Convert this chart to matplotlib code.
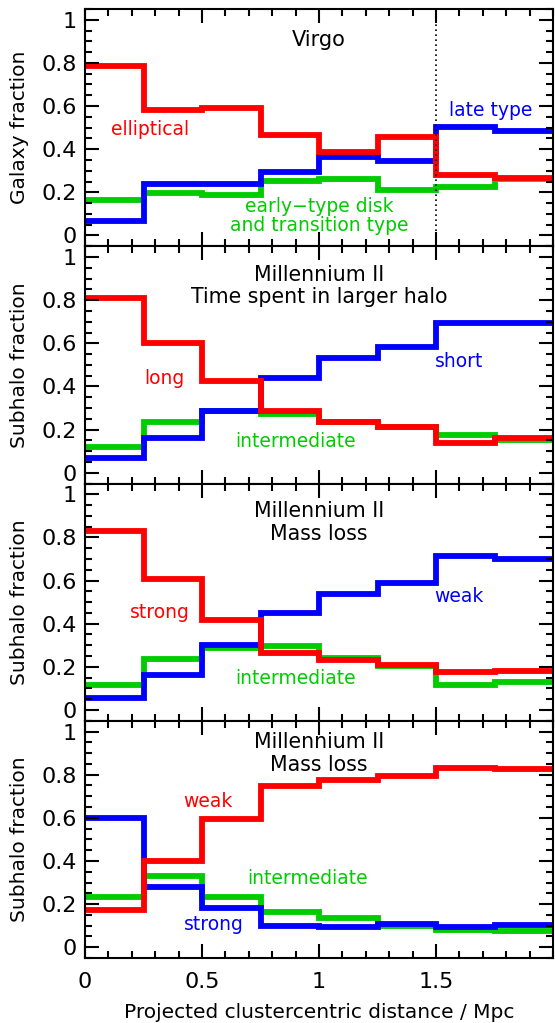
import numpy as np
import matplotlib
matplotlib.use("Agg")
import matplotlib.pyplot as plt
from matplotlib.ticker import MultipleLocator, FixedLocator

# bin edges (Mpc)
edges = [0, 0.25, 0.5, 0.75, 1.0, 1.25, 1.5, 1.75, 2.0]

# panel 1: Virgo
virgo_ell = [0.785, 0.58, 0.59, 0.465, 0.385, 0.455, 0.28, 0.265]
virgo_late = [0.067, 0.24, 0.24, 0.295, 0.363, 0.345, 0.505, 0.485]
virgo_early = [0.165, 0.197, 0.186, 0.251, 0.262, 0.212, 0.225, 0.262]

# panel 2: time spent in larger halo
time_long = [0.81, 0.60, 0.424, 0.285, 0.236, 0.21, 0.136, 0.159]
time_short = [0.066, 0.162, 0.287, 0.437, 0.532, 0.583, 0.694, 0.694]
time_inter = [0.12, 0.235, 0.285, 0.272, 0.234, 0.212, 0.174, 0.151]

# panel 3: mass loss
loss_strong = [0.832, 0.605, 0.415, 0.263, 0.232, 0.209, 0.177, 0.182]
loss_weak = [0.055, 0.163, 0.30, 0.45, 0.538, 0.589, 0.715, 0.70]
loss_inter = [0.118, 0.238, 0.285, 0.297, 0.243, 0.205, 0.115, 0.128]

# panel 4: mass loss
loss4_weak = [0.174, 0.40, 0.593, 0.747, 0.776, 0.796, 0.830, 0.824]
loss4_strong = [0.60, 0.278, 0.184, 0.099, 0.096, 0.108, 0.094, 0.105]
loss4_inter = [0.231, 0.329, 0.231, 0.164, 0.136, 0.10, 0.08, 0.076]

RED = "#ff0000"
BLUE = "#0000ff"
GREEN = "#00cc00"

fig, axes = plt.subplots(4, 1, figsize=(5.55, 10.23), dpi=100, sharex=True)
fig.subplots_adjust(left=85/555, right=553/555, top=1-9/1023, bottom=1-958/1023, hspace=0)


def steps(ax, vals, color):
    ax.stairs(vals, edges, color=color, lw=4.2, baseline=None)


def style(ax, ylabel):
    ax.set_xlim(0, 2)
    ax.set_ylim(-0.05, 1.05)
    ax.xaxis.set_major_locator(FixedLocator([0, 0.5, 1, 1.5]))
    ax.xaxis.set_minor_locator(MultipleLocator(0.1))
    ax.yaxis.set_major_locator(FixedLocator([0, 0.2, 0.4, 0.6, 0.8, 1.0]))
    ax.yaxis.set_minor_locator(MultipleLocator(0.05))
    ax.set_yticklabels(["0", "0.2", "0.4", "0.6", "0.8", "1"])
    ax.tick_params(which="both", direction="in", top=True, right=True, width=1.5,
                   labelsize=16, pad=6)
    ax.tick_params(axis="x", pad=10)
    ax.tick_params(which="major", length=10)
    ax.tick_params(which="minor", length=5)
    for s in ax.spines.values():
        s.set_linewidth(1.5)
    ax.set_ylabel(ylabel, fontsize=14.5, labelpad=9)


tk = dict(ha="center", va="center", fontsize=13.5)

# panel 1
ax = axes[0]
steps(ax, virgo_early, GREEN)
steps(ax, virgo_late, BLUE)
steps(ax, virgo_ell, RED)
ax.axvline(1.5, color="black", lw=1.2, ls=(0, (1, 2)))
ax.text(1.0, 0.905, "Virgo", ha="center", va="center", fontsize=15)
ax.text(0.28, 0.49, "elliptical", color=RED, **tk)
ax.text(1.735, 0.58, "late type", color=BLUE, **tk)
ax.text(1.0, 0.09, "early\u2212type disk\nand transition type", color=GREEN,
        linespacing=1.05, **tk)
style(ax, "Galaxy fraction")

# panel 2
ax = axes[1]
steps(ax, time_inter, GREEN)
steps(ax, time_short, BLUE)
steps(ax, time_long, RED)
ax.text(1.0, 0.865, "Millennium II\nTime spent in larger halo", ha="center",
        va="center", fontsize=14.8, linespacing=1.15)
ax.text(0.34, 0.437, "long", color=RED, **tk)
ax.text(1.60, 0.514, "short", color=BLUE, **tk)
ax.text(0.90, 0.144, "intermediate", color=GREEN, **tk)
style(ax, "Subhalo fraction")

# panel 3
ax = axes[2]
steps(ax, loss_inter, GREEN)
steps(ax, loss_weak, BLUE)
steps(ax, loss_strong, RED)
ax.text(1.0, 0.87, "Millennium II\nMass loss", ha="center", va="center",
        fontsize=14.8, linespacing=1.15)
ax.text(0.32, 0.454, "strong", color=RED, **tk)
ax.text(1.60, 0.525, "weak", color=BLUE, **tk)
ax.text(0.90, 0.146, "intermediate", color=GREEN, **tk)
style(ax, "Subhalo fraction")

# panel 4
ax = axes[3]
steps(ax, loss4_inter, GREEN)
steps(ax, loss4_strong, BLUE)
steps(ax, loss4_weak, RED)
ax.text(1.0, 0.898, "Millennium II\nMass loss", ha="center", va="center",
        fontsize=14.8, linespacing=1.15)
ax.text(0.524, 0.676, "weak", color=RED, **tk)
ax.text(0.95, 0.318, "intermediate", color=GREEN, **tk)
ax.text(0.551, 0.105, "strong", color=BLUE, **tk)
style(ax, "Subhalo fraction")
ax.set_xticklabels(["0", "0.5", "1", "1.5"])
ax.set_xlabel("Projected clustercentric distance / Mpc", fontsize=14.5, labelpad=8)

fig.savefig("out.png", dpi=100)
